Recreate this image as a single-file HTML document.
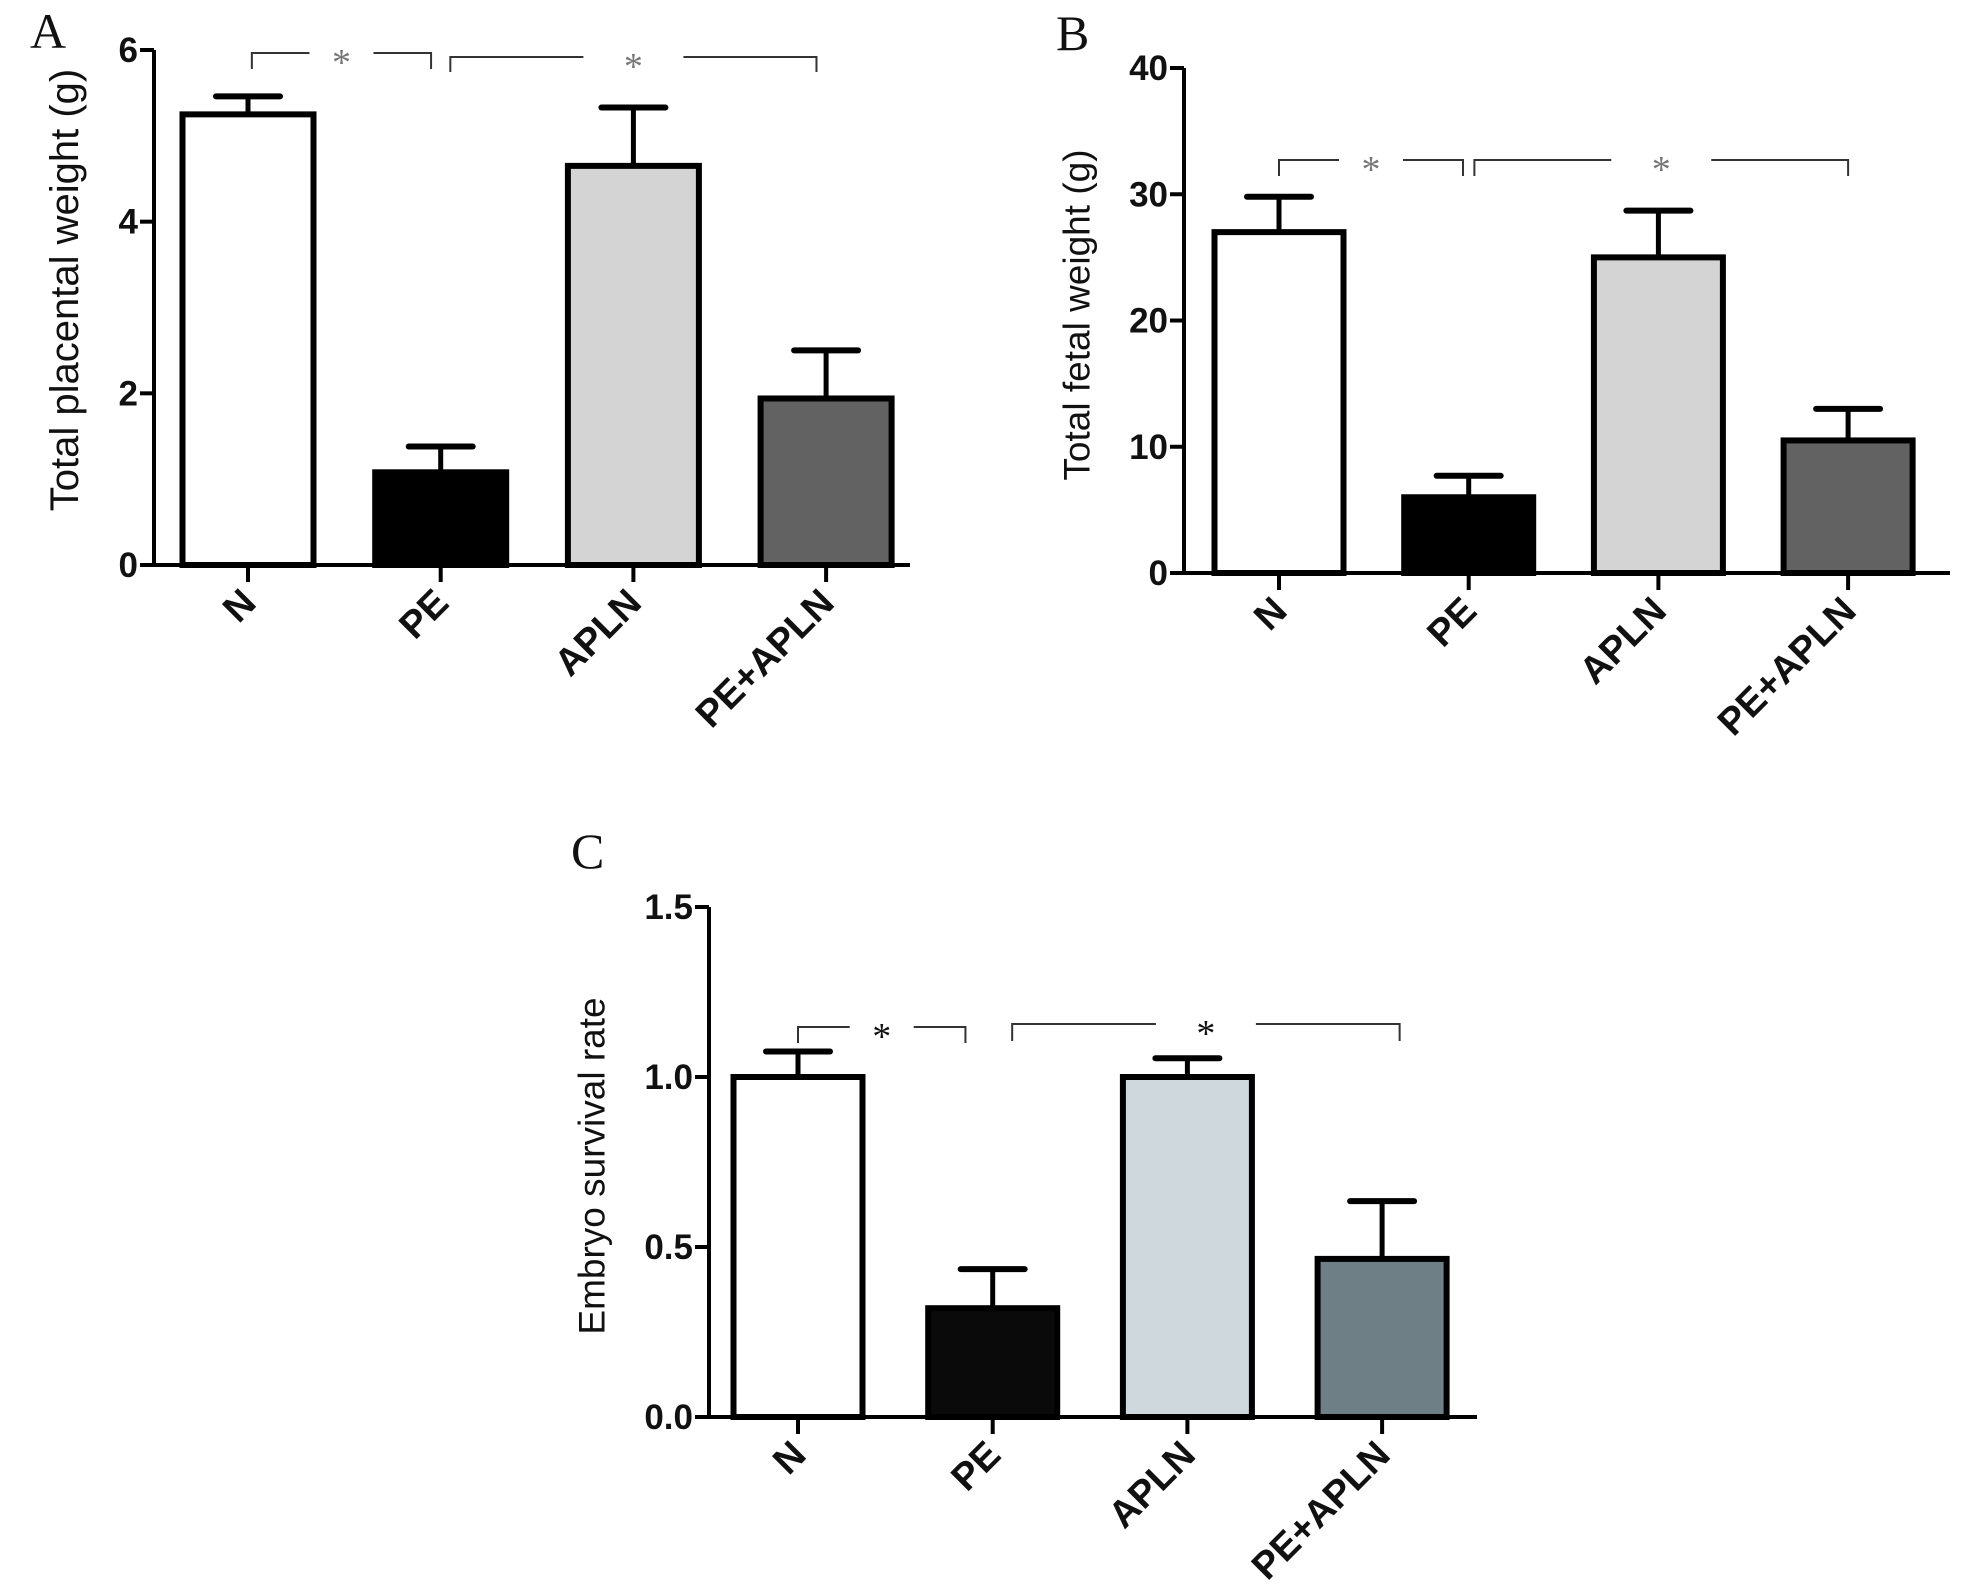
<!DOCTYPE html>
<html><head><meta charset="utf-8"><style>
html,body{margin:0;padding:0;background:#fff;overflow:hidden;}
svg{display:block;}
</style></head><body>
<svg id="fig" width="1966" height="1591" viewBox="0 0 1966 1591" xmlns="http://www.w3.org/2000/svg" style="font-family:'Liberation Sans',Arial,sans-serif">
</svg>
<script>
const categories = ["N","PE","APLN","PE+APLN"];
const valuesA = [5.25, 1.08, 4.65, 1.94];
const errorsA = [0.21, 0.30, 0.68, 0.56];
const ticksA = [0, 2, 4, 6];
const valuesB = [27.0, 6.0, 25.0, 10.5];
const errorsB = [2.8, 1.7, 3.7, 2.5];
const ticksB = [0, 10, 20, 30, 40];
const valuesC = [1.0, 0.32, 1.0, 0.465];
const errorsC = [0.075, 0.115, 0.055, 0.17];
const ticksC = [0.0, 0.5, 1.0, 1.5];
const tickLabelsC = ["0.0","0.5","1.0","1.5"];

const NS = "http://www.w3.org/2000/svg";
const svg = document.getElementById("fig");
function mk(tag, attrs, parent){
  const e = document.createElementNS(NS, tag);
  for (const k in attrs) e.setAttribute(k, attrs[k]);
  (parent||svg).appendChild(e);
  return e;
}

const panels = [
  {id:"a", letter:"A", lx:30, ly:48, axX:154, y0:565, yTop:50, xEnd:910, yMax:6, ticks:ticksA, tickLabels:ticksA.map(String),
   x0:248, step:192.7, bw:131, vals:valuesA, errs:errorsA,
   fills:["#ffffff","#000000","#d4d4d4","#626262"], title:"Total placental weight (g)", tx:65, ty:290, tfs:40, starColor:"#777",
   brackets:[[0.02,0.95,53,69],[1.05,2.95,57,72]]},
  {id:"b", letter:"B", lx:1056, ly:50, axX:1184, y0:573, yTop:68, xEnd:1950, yMax:40, ticks:ticksB, tickLabels:ticksB.map(String),
   x0:1279, step:189.7, bw:129, vals:valuesB, errs:errorsB,
   fills:["#ffffff","#000000","#d4d4d4","#626262"], title:"Total fetal weight (g)", tx:1077, ty:315, tfs:37, starColor:"#777",
   brackets:[[0,0.97,160,176],[1.03,3,160,176]]},
  {id:"c", letter:"C", lx:571, ly:868, axX:709, y0:1417, yTop:907, xEnd:1477, yMax:1.5, ticks:ticksC, tickLabels:tickLabelsC,
   x0:798, step:194.7, bw:129, vals:valuesC, errs:errorsC,
   fills:["#ffffff","#0a0a0a","#cfd8dd","#6e7f86"], title:"Embryo survival rate", tx:592, ty:1166, tfs:37, starColor:"#111",
   brackets:[[0,0.86,1027,1043],[1.10,3.09,1024,1041]]}
];

panels.forEach(p=>{
  const g = mk("g",{});
  
  
  const yS = v => p.y0 - (v/p.yMax)*(p.y0-p.yTop);
  const xS = i => p.x0 + i*p.step;
  const L = mk("text",{x:p.lx,y:p.ly,"font-size":50,style:"font-family:'Liberation Serif',serif",fill:"#111"},g);
  L.textContent = p.letter;
  
  
  p.vals.forEach((v,i)=>{
    const cx = xS(i), top = yS(v), et = yS(v+p.errs[i]);
    const eb = mk("line",{x1:cx,y1:top,x2:cx,y2:et,stroke:"#000","stroke-width":5},g);
    
    
    const cap = mk("line",{x1:cx-32,y1:et,x2:cx+32,y2:et,stroke:"#000","stroke-width":6,"stroke-linecap":"round"},g);
    
    
    const r = mk("rect",{x:cx-p.bw/2,y:top,width:p.bw,height:p.y0-top,fill:p.fills[i],stroke:"#000","stroke-width":6},g);
    
    
    const tk = mk("line",{x1:cx,y1:p.y0,x2:cx,y2:p.y0+17,stroke:"#000","stroke-width":4},g);
    
    
    const lx = cx+10, ly = p.y0+40;
    const t = mk("text",{x:lx,y:ly,"font-size":38,"font-weight":"bold","text-anchor":"end",transform:`rotate(-45 ${lx} ${ly})`,fill:"#111"},g);
    t.textContent = categories[i];
    
    
  });
  const ya = mk("line",{x1:p.axX,y1:p.yTop,x2:p.axX,y2:p.y0+2,stroke:"#000","stroke-width":4},g);
  
  
  const xa = mk("line",{x1:p.axX-2,y1:p.y0,x2:p.xEnd,y2:p.y0,stroke:"#000","stroke-width":4},g);
  
  
  p.ticks.forEach((v,i)=>{
    const y = yS(v);
    const tk = mk("line",{x1:p.axX-14,y1:y,x2:p.axX,y2:y,stroke:"#000","stroke-width":4},g);
    
    
    const t = mk("text",{x:p.axX-16,y:y+12,"font-size":35,"font-weight":"bold","text-anchor":"end",fill:"#111"},g);
    t.textContent = p.tickLabels[i];
    
    
  });
  const yt = mk("text",{x:p.tx,y:p.ty,"font-size":p.tfs,"text-anchor":"middle","dominant-baseline":"central",transform:`rotate(-90 ${p.tx} ${p.ty})`,fill:"#111"},g);
  yt.textContent = p.title;
  
  
  p.brackets.forEach((b,k)=>{
    const xa1 = xS(b[0]), xa2 = xS(b[1]), yy = b[2], yd = b[3];
    const mid = (xa1+xa2)/2, gap = k===0?32:50;
    const pth = mk("path",{d:`M${xa1},${yd} V${yy} H${mid-gap} M${mid+gap},${yy} H${xa2} V${yd}`,fill:"none",stroke:"#333","stroke-width":2},g);
    
    
    const st = mk("text",{x:mid,y:yy+22,"font-size":38,"text-anchor":"middle",fill:p.starColor,style:"font-family:'Liberation Serif',serif"},g);
    st.textContent = "*";
    
    
  });
});
</script>
</body></html>
